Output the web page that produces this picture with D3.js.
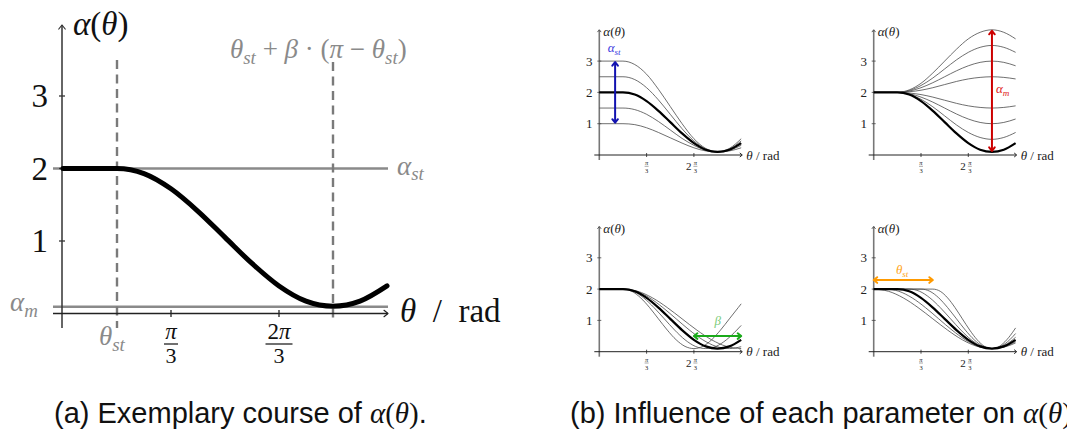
<!DOCTYPE html>
<html><head><meta charset="utf-8">
<script src="https://cdn.jsdelivr.net/npm/d3@7"></script>
<style>body{margin:0;background:#fff} svg{display:block} text{white-space:pre}</style>
</head><body><svg id="c" width="1067" height="432"></svg>
<script>
// ---------------- data ----------------
const yTickValues = [1, 2, 3];
const xTickValues = [1.0472, 2.0944];          // pi/3, 2pi/3
const xTickNums = ["π", "2π"];
const xTickDen = ["3", "3"];

// (a) main course: theta_st = pi/6, alpha_st = 2, alpha_m = 0.1, beta = 0.8
const mainTheta = [0, 0.5236, 0.7854, 1.0472, 1.309, 1.5708, 1.8326, 2.0944, 2.3562, 2.618, 2.8798, 3.1416];
const mainAlpha = [2, 2, 1.93, 1.72, 1.41, 1.05, 0.69, 0.38, 0.17, 0.10, 0.17, 0.38];
const mainThetaSt = 0.5236;
const mainThetaM = 2.618;
const mainAlphaSt = 2;
const mainAlphaM = 0.1;

// (b1) alpha_st varied (same theta grid as mainTheta)
const alphaStLevels = [1, 1.5, 2, 2.5, 3];
const alphaStCurves = [
  [1, 1, 0.97, 0.87, 0.72, 0.55, 0.38, 0.23, 0.13, 0.10, 0.13, 0.23],
  [1.5, 1.5, 1.45, 1.30, 1.07, 0.80, 0.53, 0.31, 0.15, 0.10, 0.15, 0.31],
  [2, 2, 1.93, 1.72, 1.41, 1.05, 0.69, 0.38, 0.17, 0.10, 0.17, 0.38],
  [2.5, 2.5, 2.41, 2.15, 1.76, 1.30, 0.84, 0.45, 0.19, 0.10, 0.19, 0.45],
  [3, 3, 2.89, 2.58, 2.10, 1.55, 1.00, 0.52, 0.21, 0.10, 0.21, 0.52]
];
// (b2) alpha_m varied (same theta grid)
const alphaMLevels = [0.1, 0.5, 1, 1.5, 2.5, 3, 3.5, 4];
const alphaMCurves = [
  [2, 2, 1.93, 1.72, 1.41, 1.05, 0.69, 0.38, 0.17, 0.10, 0.17, 0.38],
  [2, 2, 1.94, 1.78, 1.54, 1.25, 0.96, 0.72, 0.56, 0.50, 0.56, 0.72],
  [2, 2, 1.96, 1.85, 1.69, 1.50, 1.31, 1.15, 1.04, 1.00, 1.04, 1.15],
  [2, 2, 1.98, 1.93, 1.85, 1.75, 1.65, 1.57, 1.52, 1.50, 1.52, 1.57],
  [2, 2, 2.02, 2.07, 2.15, 2.25, 2.35, 2.43, 2.48, 2.50, 2.48, 2.43],
  [2, 2, 2.04, 2.15, 2.31, 2.50, 2.69, 2.85, 2.96, 3.00, 2.96, 2.85],
  [2, 2, 2.06, 2.22, 2.46, 2.75, 3.04, 3.28, 3.44, 3.50, 3.44, 3.28],
  [2, 2, 2.08, 2.29, 2.62, 3.00, 3.38, 3.71, 3.92, 4.00, 3.92, 3.71]
];
// (b3) beta varied
const betaLevels = [0.6, 0.7, 0.8, 0.9, 1.0];
const betaTheta = [
  [0, 0.524, 0.720, 0.916, 1.113, 1.309, 1.506, 1.702, 1.898, 2.094, 2.291, 2.487, 2.683, 2.880, 3.076, 3.1416],
  [0, 0.524, 0.753, 0.982, 1.211, 1.440, 1.669, 1.898, 2.127, 2.356, 2.585, 2.814, 3.043, 3.1416],
  [0, 0.5236, 0.7854, 1.0472, 1.309, 1.5708, 1.8326, 2.0944, 2.3562, 2.618, 2.8798, 3.1416],
  [0, 0.524, 0.818, 1.113, 1.407, 1.702, 1.996, 2.291, 2.585, 2.880, 3.1416],
  [0, 0.524, 0.851, 1.178, 1.505, 1.833, 2.160, 2.487, 2.814, 3.1416]
];
const betaAlpha = [
  [2, 2, 1.93, 1.72, 1.41, 1.05, 0.69, 0.38, 0.17, 0.10, 0.17, 0.38, 0.69, 1.05, 1.41, 1.53],
  [2, 2, 1.93, 1.72, 1.41, 1.05, 0.69, 0.38, 0.17, 0.10, 0.17, 0.38, 0.69, 0.84],
  [2, 2, 1.93, 1.72, 1.41, 1.05, 0.69, 0.38, 0.17, 0.10, 0.17, 0.38],
  [2, 2, 1.93, 1.72, 1.41, 1.05, 0.69, 0.38, 0.17, 0.10, 0.16],
  [2, 2, 1.93, 1.72, 1.41, 1.05, 0.69, 0.38, 0.17, 0.10]
];
// (b4) theta_st varied
const thetaStLevels = [0, 0.2618, 0.5236, 0.7854, 1.0472, 1.309];
const thetaStTheta = [
  [0, 0.327, 0.654, 0.982, 1.309, 1.636, 1.963, 2.291, 2.618, 2.945, 3.1416],
  [0, 0.262, 0.556, 0.851, 1.145, 1.440, 1.734, 2.029, 2.323, 2.618, 2.913, 3.1416],
  [0, 0.5236, 0.7854, 1.0472, 1.309, 1.5708, 1.8326, 2.0944, 2.3562, 2.618, 2.8798, 3.1416],
  [0, 0.785, 1.015, 1.244, 1.473, 1.702, 1.931, 2.160, 2.389, 2.618, 2.847, 3.076, 3.1416],
  [0, 1.047, 1.244, 1.440, 1.636, 1.833, 2.029, 2.225, 2.422, 2.618, 2.814, 3.011, 3.1416],
  [0, 1.309, 1.473, 1.636, 1.800, 1.963, 2.127, 2.291, 2.454, 2.618, 2.782, 2.945, 3.109, 3.1416]
];
const thetaStAlpha = [
  [2, 1.93, 1.72, 1.41, 1.05, 0.69, 0.38, 0.17, 0.10, 0.17, 0.28],
  [2, 2, 1.93, 1.72, 1.41, 1.05, 0.69, 0.38, 0.17, 0.10, 0.17, 0.32],
  [2, 2, 1.93, 1.72, 1.41, 1.05, 0.69, 0.38, 0.17, 0.10, 0.17, 0.38],
  [2, 2, 1.93, 1.72, 1.41, 1.05, 0.69, 0.38, 0.17, 0.10, 0.17, 0.38, 0.46],
  [2, 2, 1.93, 1.72, 1.41, 1.05, 0.69, 0.38, 0.17, 0.10, 0.17, 0.38, 0.58],
  [2, 2, 1.93, 1.72, 1.41, 1.05, 0.69, 0.38, 0.17, 0.10, 0.17, 0.38, 0.69, 0.76]
];

// ---------------- drawing ----------------
const svg = d3.select("#c");
const SERIF = "'Liberation Serif', 'DejaVu Serif', serif";

function math(parent, x, y, segs, size, color, anchor) {
  const t = parent.append("text").attr("x", x).attr("y", y)
    .attr("font-family", SERIF).attr("font-size", size).attr("fill", color)
    .attr("text-anchor", anchor || "start");
  let inSub = false;
  segs.forEach(([s, st]) => {
    const sp = t.append("tspan").text(s);
    if (st.includes("i")) sp.attr("font-style", "italic");
    if (st.includes("s")) {
      sp.attr("font-size", size * 0.7);
      if (!inSub) { sp.attr("dy", size * 0.22); inSub = true; }
    } else if (inSub) { sp.attr("dy", -size * 0.22); inSub = false; }
  });
  return t;
}
function chevron(g, x, y, dir, s, color, w) {
  let p;
  if (dir === "up") p = [[x - s * 0.8, y + s], [x, y], [x + s * 0.8, y + s]];
  if (dir === "down") p = [[x - s * 0.8, y - s], [x, y], [x + s * 0.8, y - s]];
  if (dir === "right") p = [[x - s, y - s * 0.8], [x, y], [x - s, y + s * 0.8]];
  if (dir === "left") p = [[x + s, y - s * 0.8], [x, y], [x + s, y + s * 0.8]];
  g.append("path").attr("d", d3.line()(p)).attr("fill", "none").attr("stroke", color)
    .attr("stroke-width", w).attr("stroke-linecap", "round").attr("stroke-linejoin", "round");
}

// ---- (a) main chart ----
(function () {
  const g = svg.append("g");
  const x = d3.scaleLinear().domain([0, Math.PI]).range([63, 387]);
  const y = d3.scaleLinear().domain([0, 3]).range([313.5, 96]);
  const y0 = y(0);
  g.append("line").attr("x1", 53).attr("x2", 388).attr("y1", y(mainAlphaSt)).attr("y2", y(mainAlphaSt))
    .attr("stroke", "#8a8a8a").attr("stroke-width", 2.6);
  g.append("line").attr("x1", 53).attr("x2", 388).attr("y1", y(mainAlphaM) + 0.5).attr("y2", y(mainAlphaM) + 0.5)
    .attr("stroke", "#8a8a8a").attr("stroke-width", 2.6);
  g.append("line").attr("x1", x(mainThetaSt)).attr("x2", x(mainThetaSt)).attr("y1", 60).attr("y2", 328)
    .attr("stroke", "#7a7a7a").attr("stroke-width", 2.4).attr("stroke-dasharray", "9,5.5");
  g.append("line").attr("x1", x(mainThetaM)).attr("x2", x(mainThetaM)).attr("y1", 62).attr("y2", 322)
    .attr("stroke", "#7a7a7a").attr("stroke-width", 2.4).attr("stroke-dasharray", "9,5.5");
  g.append("line").attr("x1", 62).attr("x2", 62).attr("y1", 328).attr("y2", 25)
    .attr("stroke", "#333").attr("stroke-width", 1.5);
  chevron(g, 62, 25, "up", 4, "#333", 1.2);
  g.append("line").attr("x1", 53).attr("x2", 388).attr("y1", y0).attr("y2", y0)
    .attr("stroke", "#222").attr("stroke-width", 1.5);
  chevron(g, 388, y0, "right", 4, "#222", 1.2);
  yTickValues.forEach(v => {
    g.append("line").attr("x1", 59).attr("x2", 65).attr("y1", y(v)).attr("y2", y(v)).attr("stroke", "#333").attr("stroke-width", 1.3);
    math(g, 48, y(v) + 11, [[String(v), "r"]], 33, "#111", "end");
  });
  xTickValues.forEach((v, i) => {
    g.append("line").attr("x1", x(v)).attr("x2", x(v)).attr("y1", y0 - 3.5).attr("y2", y0 + 3.5).attr("stroke", "#222").attr("stroke-width", 1.3);
    const nums = xTickNums[i];
    const t = g.append("text").attr("x", x(v)).attr("y", 339).attr("text-anchor", "middle")
      .attr("font-family", SERIF).attr("font-size", 23).attr("fill", "#111");
    if (nums.length > 1) t.append("tspan").text(nums[0]);
    t.append("tspan").attr("font-style", "italic").text("π");
    const bw = nums.length > 1 ? 27 : 14;
    g.append("line").attr("x1", x(v) - bw / 2).attr("x2", x(v) + bw / 2).attr("y1", 344).attr("y2", 344).attr("stroke", "#111").attr("stroke-width", 1.2);
    math(g, x(v), 363, [[xTickDen[i], "r"]], 22, "#111", "middle");
  });
  const pts = mainTheta.map((t, i) => [x(t), y(mainAlpha[i])]);
  g.append("path").attr("d", d3.line().curve(d3.curveMonotoneX)(pts))
    .attr("fill", "none").attr("stroke", "#000").attr("stroke-width", 5).attr("stroke-linecap", "round");
  math(g, 73, 35, [["α", "i"], ["(", "r"], ["θ", "i"], [")", "r"]], 33, "#111");
  math(g, 230, 58, [["θ", "i"], ["st", "is"], [" + ", "r"], ["β", "i"], [" · (", "r"], ["π", "i"], [" − ", "r"], ["θ", "i"], ["st", "is"], [")", "r"]], 27, "#8a8a8a");
  math(g, 397, y(mainAlphaSt) + 6, [["α", "i"], ["st", "is"]], 27, "#8a8a8a");
  math(g, 10, y(mainAlphaM) + 5, [["α", "i"], ["m", "is"]], 27, "#8a8a8a");
  math(g, 99, 345, [["θ", "i"], ["st", "is"]], 27, "#8a8a8a");
  math(g, 400, 322, [["θ", "i"], ["  /  ", "r"], ["rad", "r"]], 33, "#111");
})();

// ---- (b) small multiples ----
function smallPanel(x0, y0, thetas, alphas, boldIdx) {
  const g = svg.append("g");
  const x = d3.scaleLinear().domain([0, Math.PI]).range([x0, x0 + 141.9]);
  const y = d3.scaleLinear().domain([0, 4]).range([y0, y0 - 125.2]);
  g.append("line").attr("x1", x0).attr("x2", x0).attr("y1", y0 + 5).attr("y2", y(4))
    .attr("stroke", "#777").attr("stroke-width", 1.6);
  chevron(g, x0, y(4), "up", 2, "#555", 1);
  g.append("line").attr("x1", x0 - 5).attr("x2", x0 + 142.5).attr("y1", y0).attr("y2", y0)
    .attr("stroke", "#222").attr("stroke-width", 1);
  chevron(g, x0 + 143, y0, "right", 2.2, "#222", 1);
  yTickValues.forEach(v => {
    g.append("line").attr("x1", x0 - 2).attr("x2", x0 + 2).attr("y1", y(v)).attr("y2", y(v)).attr("stroke", "#444").attr("stroke-width", 0.8);
    math(g, x0 - 10, y(v) + 4.5, [[String(v), "r"]], 13, "#222", "middle");
  });
  xTickValues.forEach((v, i) => {
    g.append("line").attr("x1", x(v)).attr("x2", x(v)).attr("y1", y0 - 2).attr("y2", y0 + 2).attr("stroke", "#222").attr("stroke-width", 0.8);
    if (xTickNums[i].length > 1) math(g, x(v) - 2.5, y0 + 15, [["2", "r"]], 11, "#222", "end");
    const fx = xTickNums[i].length > 1 ? x(v) + 1.5 : x(v);
    math(g, fx, y0 + 9.8, [["π", "i"]], 6.5, "#222", "middle");
    g.append("line").attr("x1", fx - 2).attr("x2", fx + 2).attr("y1", y0 + 11.3).attr("y2", y0 + 11.3).attr("stroke", "#222").attr("stroke-width", 0.4);
    math(g, fx, y0 + 17.8, [[xTickDen[i], "r"]], 6.5, "#222", "middle");
  });
  math(g, x0 + 4, y(4) + 6, [["α", "i"], ["(", "r"], ["θ", "i"], [")", "r"]], 13, "#222");
  math(g, x0 + 147, y0 + 4.5, [["θ", "i"], [" / ", "r"], ["rad", "r"]], 13, "#222");
  const line = d3.line().curve(d3.curveMonotoneX);
  alphas.forEach((al, k) => {
    if (k === boldIdx) return;
    const th = Array.isArray(thetas[0]) ? thetas[k] : thetas;
    g.append("path").attr("d", line(th.map((t, i) => [x(t), y(al[i])])))
      .attr("fill", "none").attr("stroke", "#4a4a4a").attr("stroke-width", 0.8);
  });
  const thb = Array.isArray(thetas[0]) ? thetas[boldIdx] : thetas;
  g.append("path").attr("d", line(thb.map((t, i) => [x(t), y(alphas[boldIdx][i])])))
    .attr("fill", "none").attr("stroke", "#000").attr("stroke-width", 2.2);
  return { g, x, y };
}
function dblArrow(g, x1, y1, x2, y2, color) {
  g.append("line").attr("x1", x1).attr("y1", y1).attr("x2", x2).attr("y2", y2)
    .attr("stroke", color).attr("stroke-width", 2);
  if (x1 === x2) { chevron(g, x1, y1, y1 < y2 ? "up" : "down", 3.5, color, 2); chevron(g, x2, y2, y2 > y1 ? "down" : "up", 3.5, color, 2); }
  else { chevron(g, x1, y1, "left", 3.5, color, 2); chevron(g, x2, y2, "right", 3.5, color, 2); }
}

(function () {
  const p = smallPanel(599.3, 155, mainTheta, alphaStCurves, alphaStLevels.indexOf(2));
  const ax = p.x(0.35);
  dblArrow(p.g, ax, p.y(3) + 1, ax, p.y(1) - 1, "#1212b0");
  math(p.g, ax - 1, p.y(3.3), [["α", "i"], ["st", "is"]], 13, "#3a3ae0", "middle");
})();
(function () {
  const p = smallPanel(873.7, 155, mainTheta, alphaMCurves, alphaMLevels.indexOf(0.1));
  const ax = p.x(mainThetaM);
  dblArrow(p.g, ax, p.y(4) + 1, ax, p.y(0.1) - 1, "#cc0000");
  math(p.g, ax + 4, p.y(2.1) + 4, [["α", "i"], ["m", "is"]], 13, "#e02020");
})();
(function () {
  const p = smallPanel(599.3, 351.7, betaTheta, betaAlpha, betaLevels.indexOf(0.8));
  dblArrow(p.g, p.x(2.0944), p.y(0.5), p.x(Math.PI), p.y(0.5), "#1aaa1a");
  math(p.g, p.x(2.62), p.y(0.9) + 1, [["β", "i"]], 13, "#7acc7a", "middle");
})();
(function () {
  const p = smallPanel(873.7, 351.7, thetaStTheta, thetaStAlpha, thetaStLevels.indexOf(0.5236));
  dblArrow(p.g, p.x(0), p.y(2.29), p.x(1.309), p.y(2.29), "#ff9a00");
  math(p.g, p.x(0.63), p.y(2.55) + 2, [["θ", "i"], ["st", "is"]], 13, "#ffa520", "middle");
})();

// ---- captions ----
function caption(x, y, txt) {
  const t = svg.append("text").attr("x", x).attr("y", y)
    .attr("font-family", "'Liberation Sans', Arial, sans-serif").attr("font-size", 29).attr("fill", "#111");
  t.append("tspan").text(txt);
  t.append("tspan").attr("font-family", SERIF).attr("font-style", "italic").text("α");
  t.append("tspan").attr("font-family", SERIF).text("(");
  t.append("tspan").attr("font-family", SERIF).attr("font-style", "italic").text("θ");
  t.append("tspan").attr("font-family", SERIF).text(")");
  t.append("tspan").text(".");
}
caption(54, 423, "(a) Exemplary course of ");
caption(570, 423, "(b) Influence of each parameter on ");
</script></body></html>
